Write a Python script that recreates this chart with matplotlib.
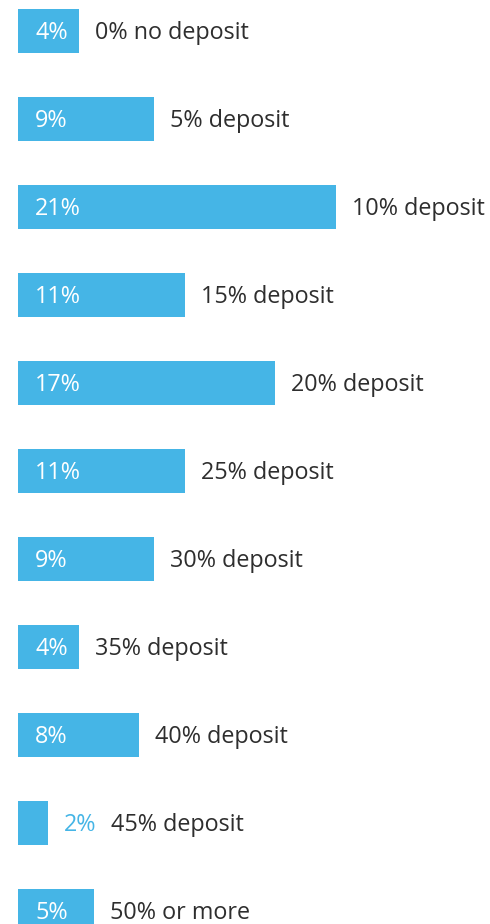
import matplotlib
matplotlib.use("Agg")
import matplotlib.pyplot as plt

categories = ["0% no deposit", "5% deposit", "10% deposit", "15% deposit",
              "20% deposit", "25% deposit", "30% deposit", "35% deposit",
              "40% deposit", "45% deposit", "50% or more"]
shares = [4, 9, 21, 11, 17, 11, 9, 4, 8, 2, 5]

BAR = "#45b5e6"
INK = "#2e2e2e"
plt.rcParams["font.family"] = ["Open Sans", "DejaVu Sans"]

W, H, DPI = 490, 924, 100
PX_PER_PCT = 15.14
LEFT_PX = 18
ROW_PX = 88
FIRST_PX = 31

fig = plt.figure(figsize=(W / DPI, H / DPI), dpi=DPI)
ax = fig.add_axes([0, 0, 1, 1])
ax.set_xlim(-LEFT_PX / PX_PER_PCT, (W - LEFT_PX) / PX_PER_PCT)
ax.set_ylim((H - FIRST_PX) / ROW_PX, -FIRST_PX / ROW_PX)
ax.axis("off")

ypos = list(range(len(categories)))
ax.barh(ypos, shares, height=0.5, color=BAR, left=0)

fs = 16.8
dy = -2
for y, v, cat in zip(ypos, shares, categories):
    if v >= 4:
        ax.annotate(f"{v}%", xy=(0, y), xytext=(17, dy), textcoords="offset pixels",
                    va="center", ha="left", color="white", fontsize=fs)
        ax.annotate(cat, xy=(v, y), xytext=(16, dy), textcoords="offset pixels",
                    va="center", ha="left", color=INK, fontsize=fs)
    else:
        vt = ax.annotate(f"{v}%", xy=(v, y), xytext=(16, dy), textcoords="offset pixels",
                         va="center", ha="left", color=BAR, fontsize=fs)
        ax.annotate(cat, xy=(1, 0.5), xycoords=vt, xytext=(14, 0), textcoords="offset pixels",
                    va="center", ha="left", color=INK, fontsize=fs)

fig.savefig("out.png", dpi=DPI)
